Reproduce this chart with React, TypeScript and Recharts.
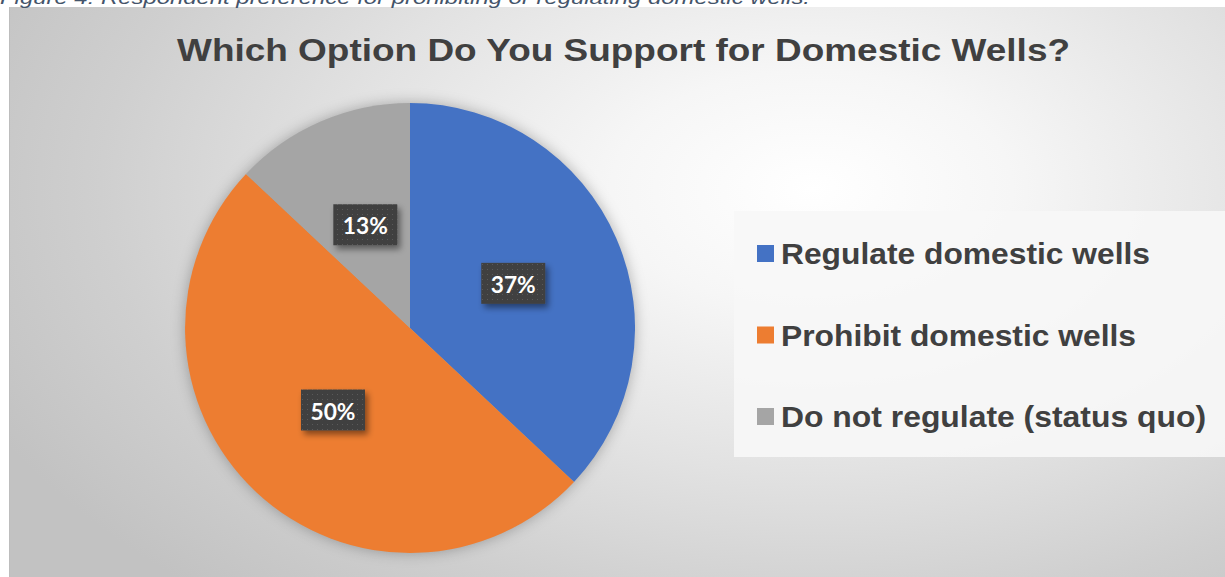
import React from "react";
import { PieChart, Pie, Cell, Legend } from "recharts";

const categories = ["Regulate domestic wells", "Prohibit domestic wells", "Do not regulate (status quo)"];
const values = [37, 50, 13];
const colors = ["#4472C4", "#ED7D31", "#A5A5A5"];
const legendTextLengths = [369, 355, 425];

const chartTitle = "Which Option Do You Support for Domestic Wells?";
const caption = "Figure 4: Respondent preference for prohibiting or regulating domestic wells.";

const data = categories.map((name, i) => ({ name, value: values[i] }));

const RADIAN = Math.PI / 180;

const renderLabel = (props: any) => {
  const { cx, cy, midAngle, outerRadius, percent } = props;
  const r = outerRadius * 0.5;
  const x = cx + r * Math.cos(-midAngle * RADIAN);
  const y = cy + r * Math.sin(-midAngle * RADIAN);
  const w = 64;
  const h = 41;
  return (
    <g>
      <rect x={x - w / 2} y={y - h / 2} width={w} height={h} fill="url(#dotPattern)" filter="url(#boxShadow)" />
      <text
        x={x - 22.5}
        y={y + 9.5}
        fill="#ffffff"
        fontFamily="Lato, 'Open Sans', sans-serif"
        fontWeight={700}
        fontSize={23}
        textLength={45}
        lengthAdjust="spacingAndGlyphs"
      >
        {`${Math.round(percent * 100)}%`}
      </text>
    </g>
  );
};

const renderLegend = (props: any) => {
  const payload = [...(props.payload || [])].sort(
    (a: any, b: any) => categories.indexOf(a.value) - categories.indexOf(b.value)
  );
  return (
    <svg width={492} height={246} style={{ display: "block" }}>
      <rect x={0} y={0} width={492} height={246} fill="#f7f7f7" fillOpacity={0.9} />
      {payload.map((entry: any, i: number) => {
        const cyItem = 42.5 + i * 81.5;
        const idx = categories.indexOf(entry.value);
        return (
          <g key={`leg-${i}`}>
            <rect x={23} y={cyItem - 8.5} width={17} height={17} fill={entry.color} />
            <text
              x={47}
              y={cyItem + 10.5}
              fill="#404040"
              fontFamily="'Liberation Sans', Arial, sans-serif"
              fontWeight={700}
              fontSize={30}
              textLength={legendTextLengths[idx]}
              lengthAdjust="spacingAndGlyphs"
            >
              {entry.value}
            </text>
          </g>
        );
      })}
    </svg>
  );
};

export default function App() {
  return (
    <div style={{ position: "absolute", left: 0, top: 0, width: 1225, height: 577, overflow: "hidden", background: "#ffffff" }}>
      <style>{`.recharts-pie-sectors, .recharts-pie > .recharts-layer:first-child { filter: drop-shadow(0px 0px 7px rgba(0,0,0,0.28)); }`}</style>
      <svg width={0} height={0} style={{ position: "absolute" }}>
        <defs>
          <pattern id="dotPattern" width={5} height={5} patternUnits="userSpaceOnUse">
            <rect width={5} height={5} fill="#404040" />
            <rect x={2} y={2} width={1} height={1} fill="#5a5a5a" />
          </pattern>
          <filter id="boxShadow" x="-30%" y="-30%" width="160%" height="170%">
            <feDropShadow dx={3} dy={4} stdDeviation={3} floodColor="#000000" floodOpacity={0.45} />
          </filter>
        </defs>
      </svg>
      <div
        style={{
          position: "absolute",
          left: 9,
          top: 7,
          width: 1216,
          height: 570,
          background:
            "radial-gradient(ellipse 75% 95% at 66% 32%, #ffffff 0%, #f6f6f6 22%, #e2e2e2 52%, #cfcfcf 78%, #c2c2c2 100%)",
          borderLeft: "1px solid #bdbdbd",
          boxSizing: "border-box",
        }}
      >
        <PieChart width={1216} height={570} margin={{ top: 0, right: 0, bottom: 0, left: 0 }}>
          <Pie
            data={data}
            dataKey="value"
            nameKey="name"
            cx={400}
            cy={321}
            outerRadius={225}
            startAngle={90}
            endAngle={-270}
            stroke="none"
            label={renderLabel}
            labelLine={false}
            isAnimationActive={false}
          >
            {data.map((d, i) => (
              <Cell key={d.name} fill={colors[i]} />
            ))}
          </Pie>
          <Legend
            content={renderLegend}
            wrapperStyle={{ position: "absolute", left: 724, top: 204, width: 492, height: 246 }}
          />
        </PieChart>
      </div>
      <svg width={1225} height={577} style={{ position: "absolute", left: 0, top: 0, pointerEvents: "none" }}>
        <text
          x={0}
          y={4}
          fill="#44546A"
          fontFamily="'Liberation Sans', Arial, sans-serif"
          fontStyle="italic"
          fontSize={18}
          textLength={810}
          lengthAdjust="spacingAndGlyphs"
        >
          {caption}
        </text>
        <text
          x={177}
          y={61}
          fill="#404040"
          fontFamily="'Liberation Sans', Arial, sans-serif"
          fontWeight={700}
          fontSize={32}
          textLength={893}
          lengthAdjust="spacingAndGlyphs"
        >
          {chartTitle}
        </text>
      </svg>
    </div>
  );
}
